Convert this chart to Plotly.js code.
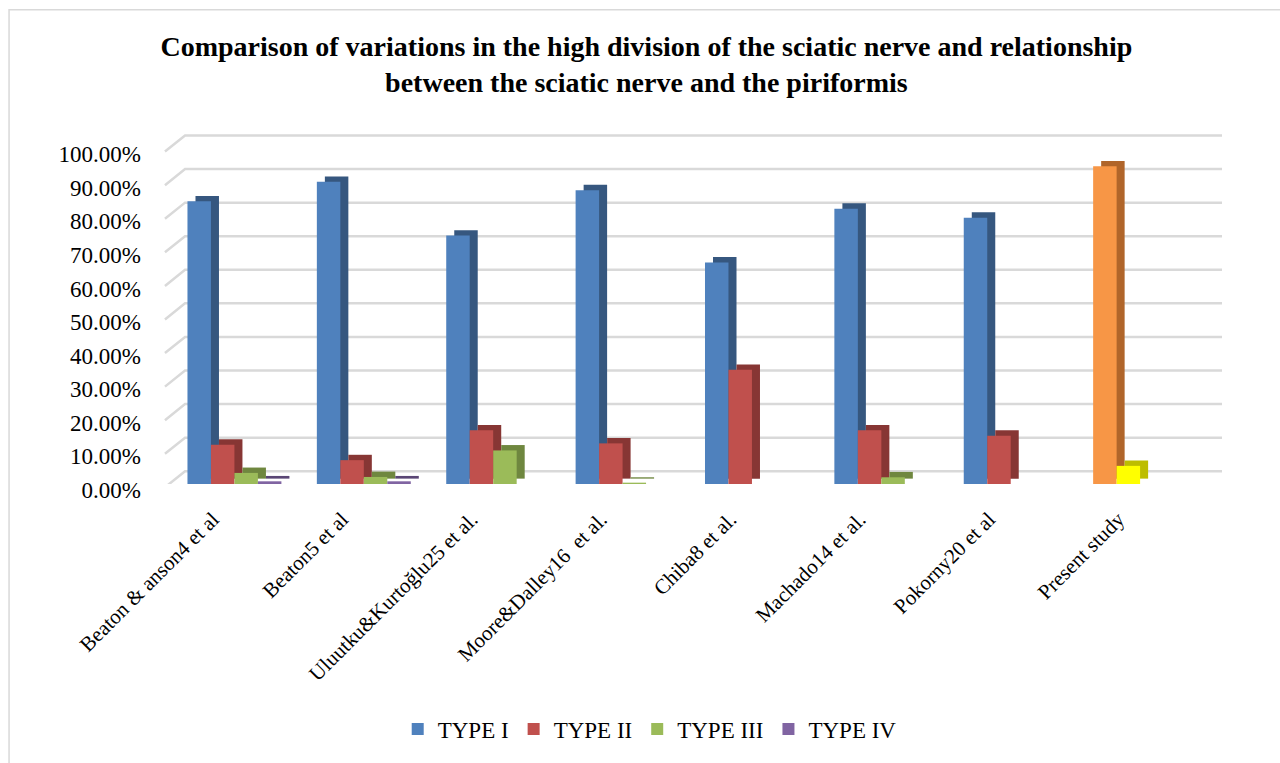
<!DOCTYPE html>
<html>
<head>
<meta charset="utf-8">
<script src="https://cdn.plot.ly/plotly-3.0.1.min.js"></script>
<style>html,body{margin:0;padding:0;background:#fff;}#chart{width:1280px;height:763px;}</style>
</head>
<body>
<div id="chart"></div>
<script>
// ---- data ----
const categories = ["Beaton & anson4 et al", "Beaton5 et al", "Uluutku&Kurtoğlu25 et al.", "Moore&Dalley16  et al.", "Chiba8 et al.", "Machado14 et al.", "Pokorny20 et al", "Present study"];
const seriesNames = ["TYPE I", "TYPE II", "TYPE III", "TYPE IV"];
const typeI   = [0.842, 0.900, 0.740, 0.875, 0.660, 0.820, 0.793, 0.946];
const typeII  = [0.117, 0.071, 0.160, 0.121, 0.340, 0.160, 0.144, 0.054];
const typeIII = [0.033, 0.021, 0.100, 0.004, 0, 0.020, 0, 0];
const typeIV  = [0.008, 0.008, 0, 0, 0, 0, 0, 0];
const yTicks  = [0, 0.1, 0.2, 0.3, 0.4, 0.5, 0.6, 0.7, 0.8, 0.9, 1.0];

// ---- styles ----
const frontColors = ["#4F81BD", "#C0504D", "#9BBB59", "#8064A2"];
const sideColors  = ["#36577F", "#873634", "#6F873F", "#5A4675"];
// special colours for the present study (last category)
const presentFront = {0: "#F79646", 1: "#FFFF00"};
const presentSide  = {0: "#B0652A", 1: "#BDBD00"};

const seriesValues = [typeI, typeII, typeIII, typeIV];
const barW = 0.1815, firstOff = -0.365, depthX = 0.062, depthY = 0.016;
const font = "'Liberation Serif', 'Times New Roman', serif";

function colorsFor(i, base, special) {
  return categories.map((c, k) => (k === categories.length - 1 && special[i]) ? special[i] : base[i]);
}

const traces = [];
// side / top faces (drawn first)
seriesValues.forEach((vals, i) => {
  traces.push({
    type: "bar", x: categories, y: vals, base: depthY,
    offset: firstOff + i * barW + depthX, width: barW,
    marker: {color: colorsFor(i, sideColors, presentSide), line: {width: 0}},
    showlegend: false, hoverinfo: "skip"
  });
});
// front faces
seriesValues.forEach((vals, i) => {
  traces.push({
    type: "bar", name: seriesNames[i], x: categories, y: vals,
    offset: firstOff + i * barW, width: barW,
    marker: {color: colorsFor(i, frontColors, presentFront), line: {width: 0}},
    showlegend: true
  });
});

// back-wall gridlines with perspective diagonal
const shapes = yTicks.map(t => ({
  type: "path", xref: "paper", yref: "y", layer: "below",
  path: `M -0.0048 ${t - 0.010} L 0.0143 ${t + 0.038} L 1 ${t + 0.038}`,
  line: {color: "#D9D9D9", width: 2.5}
}));
shapes.push({
  type: "rect", xref: "paper", yref: "paper",
  x0: -0.1530, x1: 1.2, y0: -1, y1: 1.355,
  line: {color: "#D9D9D9", width: 1.5}, fillcolor: "rgba(0,0,0,0)", layer: "below"
});

const layout = {
  width: 1280, height: 763,
  margin: {l: 170, r: 58, t: 134, b: 277},
  paper_bgcolor: "#ffffff", plot_bgcolor: "rgba(0,0,0,0)",
  barmode: "overlay",
  font: {family: font, color: "#000"},
  title: {
    text: "<b>Comparison of variations in the high division of the sciatic nerve and relationship<br>between the sciatic nerve and the piriformis</b>",
    font: {family: font, size: 28, color: "#000"},
    x: 0.505, xref: "container", xanchor: "center",
    y: 0.927, yref: "container", yanchor: "middle"
  },
  xaxis: {
    type: "category", range: [-0.5, 7.631],
    showgrid: false, zeroline: false, showline: false,
    tickangle: -45, tickfont: {family: font, size: 21, color: "#000"},
    ticks: "", ticklabelstandoff: 18, ticklabelshift: -22, fixedrange: true
  },
  yaxis: {
    range: [0, 1.0424], tickvals: yTicks, tickformat: ".2%",
    showgrid: false, zeroline: false, showline: false,
    tickfont: {family: font, size: 23, color: "#000"},
    ticks: "", ticklabelstandoff: 28, ticklabelshift: 6, fixedrange: true
  },
  legend: {
    orientation: "h", x: 0.456, xanchor: "center", y: -0.70, yanchor: "middle",
    font: {family: font, size: 23, color: "#000"}, traceorder: "normal"
  },
  shapes: shapes,
  showlegend: true
};

Plotly.newPlot("chart", traces, layout, {displayModeBar: false, staticPlot: true});
</script>
</body>
</html>
